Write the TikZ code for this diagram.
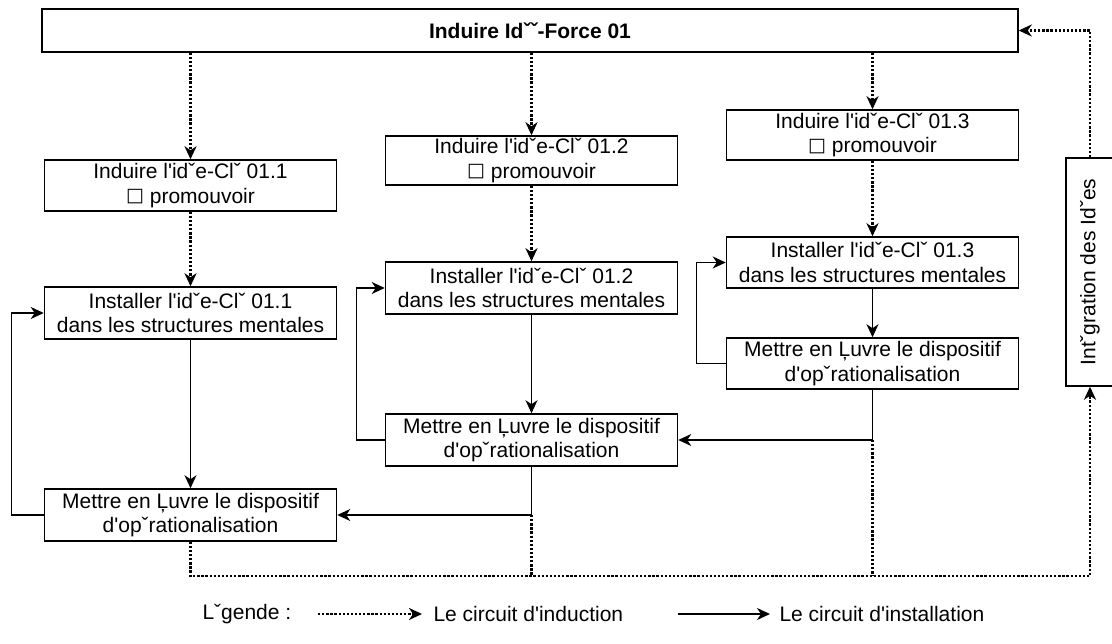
\documentclass[tikz,border=0pt]{standalone}
\usepackage{fontspec}
\setmainfont{Liberation Sans}[Ligatures=TeXOff]
\newfontfamily\symfont{DejaVu Sans}
\newcommand{\sqmark}{\raisebox{1.5pt}{\symfont\fontsize{19}{19}\selectfont □}}
\usetikzlibrary{arrows.meta}
\begin{document}
\begin{tikzpicture}[x=1pt,y=-1pt,
  txt/.style={font=\fontsize{21}{24.5}\selectfont},
  box/.style={draw=black, line width=1.5pt, minimum width=292pt, minimum height=51pt,
    inner sep=0pt, align=center, txt},
  tip/.style={-{Stealth[length=13pt,width=12pt,inset=4pt]}},
  ind/.style={line width=2.3pt, dash pattern=on 2.3pt off 1.8pt},
  indarrow/.style={ind, tip},
  inst/.style={line width=1.4pt},
  instarrow/.style={inst, tip}
]
\useasboundingbox (0,0) rectangle (1112,644);

% main idea box
\node[box, minimum width=976pt, minimum height=43pt, font=\bfseries\fontsize{21}{24}\selectfont]
  (top) at (530,30.5) {Induire Idˇˇ-Force 01};

% column 1
\node[box] (A1) at (190.5,185.5) {Induire l'idˇe-Clˇ 01.1\\\sqmark{} promouvoir};
\node[box, minimum height=52pt] (A2) at (190.5,313) {Installer l'idˇe-Clˇ 01.1\\dans les structures mentales};
\node[box, minimum height=52pt] (A3) at (190.5,515) {Mettre en Ļuvre le dispositif\\d'opˇrationalisation};

% column 2
\node[box, minimum height=49pt] (B1) at (531.5,160.5) {Induire l'idˇe-Clˇ 01.2\\\sqmark{} promouvoir};
\node[box, minimum height=52pt] (B2) at (531.5,288) {Installer l'idˇe-Clˇ 01.2\\dans les structures mentales};
\node[box, minimum height=52pt] (B3) at (531.5,440) {Mettre en Ļuvre le dispositif\\d'opˇrationalisation};

% column 3
\node[box, minimum height=50pt] (C1) at (872.5,135) {Induire l'idˇe-Clˇ 01.3\\\sqmark{} promouvoir};
\node[box] (C2) at (872.5,262.5) {Installer l'idˇe-Clˇ 01.3\\dans les structures mentales};
\node[box] (C3) at (872.5,363.5) {Mettre en Ļuvre le dispositif\\d'opˇrationalisation};

% integration box
\node[draw=black, line width=1.5pt, minimum width=48pt, minimum height=228pt, inner sep=0pt]
  (V) at (1090,272) {};
\node[txt, rotate=90] (Vt) at (V.center) {Intˇgration des Idˇes};

% induction circuit
\draw[indarrow] (top.south -| A1.north) -- (A1.north);
\draw[indarrow] (top.south -| B1.north) -- (B1.north);
\draw[indarrow] (top.south -| C1.north) -- (C1.north);
\draw[indarrow] (A1.south) -- (A2.north);
\draw[indarrow] (B1.south) -- (B2.north);
\draw[indarrow] (C1.south) -- (C2.north);

% installation circuit
\draw[instarrow] (A2.south) -- (A3.north);
\draw[instarrow] (B2.south) -- (B3.north);
\draw[instarrow] (C2.south) -- (C3.north);
\draw[instarrow] (A3.west) -- ++(-32,0) |- (A2.west);
\draw[instarrow] (B3.west) -- ++(-28,0) |- (B2.west);
\draw[instarrow] (C3.west) -- ++(-29,0) |- (C2.west);
\coordinate (jB) at (B3.south |- A3.east);
\coordinate (jC) at (C3.south |- B3.east);
\draw[instarrow] (B3.south) -- (jB) -- (A3.east);
\draw[instarrow] (C3.south) -- (jC) -- (B3.east);

% return to the main idea
\coordinate (bot) at (0,576);
\draw[indarrow] (A3.south) -- (A3.south |- bot) -- (V.south |- bot) -- (V.south);
\draw[ind] (jB) -- (jB |- bot);
\draw[ind] (jC) -- (jC |- bot);
\draw[indarrow] (V.north) -- (V.north |- top.east) -- (top.east);

% legend
\node[txt, anchor=west] (lg) at (199,614) {Lˇgende :};
\coordinate (l1a) at (318,614);
\coordinate (l1b) at (422,614);
\draw[indarrow] (l1a) -- (l1b);
\node[txt, anchor=west] (lg1) at (430,614) {Le circuit d'induction};
\coordinate (l2a) at (678,614);
\coordinate (l2b) at (770,614);
\draw[instarrow] (l2a) -- (l2b);
\node[txt, anchor=west] (lg2) at (776,614) {Le circuit d'installation};
\end{tikzpicture}
\end{document}
